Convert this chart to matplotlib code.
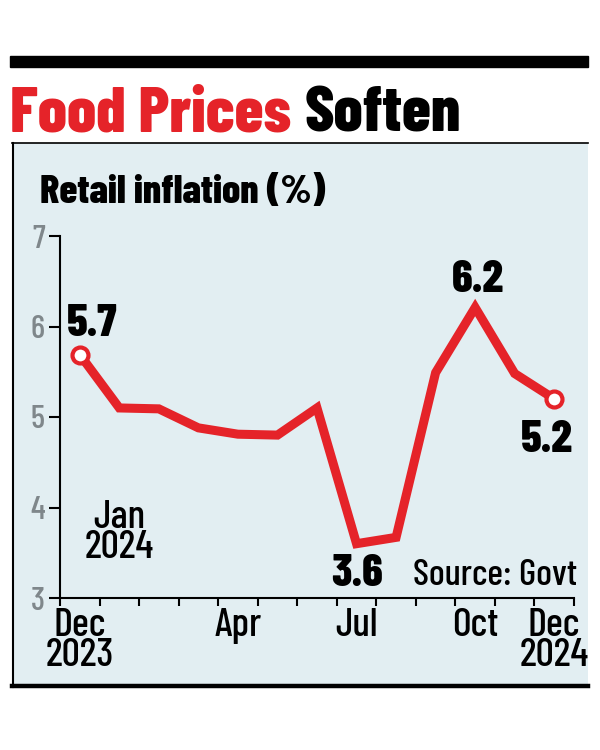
import numpy as np
import matplotlib
matplotlib.use('Agg')
from matplotlib import pyplot, font_manager
from matplotlib.patches import Rectangle
from matplotlib.lines import Line2D


#data:
months    = ['Dec 2023', 'Jan', 'Feb', 'Mar', 'Apr', 'May', 'Jun',
             'Jul', 'Aug', 'Sep', 'Oct', 'Nov', 'Dec 2024']
inflation = [5.69, 5.10, 5.09, 4.88, 4.81, 4.80, 5.10, 3.60, 3.67, 5.49, 6.21, 5.48, 5.20]
xlabels   = {0: 'Dec\n2023', 4: 'Apr', 7: 'Jul', 10: 'Oct', 12: 'Dec\n2024'}
callouts  = {0: '5.7', 7: '3.6', 10: '6.2', 12: '5.2'}
yticks    = [3, 4, 5, 6, 7]

#fonts / colours:
names = {f.name for f in font_manager.fontManager.ttflist}
FONT  = 'Barlow Condensed' if 'Barlow Condensed' in names else 'DejaVu Sans'
pyplot.rcParams['font.family'] = [FONT, 'DejaVu Sans']
RED   = '#e52329'
BG    = '#e2eef2'
GREY  = '#7f878b'

W, H = 600, 750
def fx(px): return px / W
def fy(py): return 1 - py / H


pyplot.close('all')
fig = pyplot.figure(figsize=(6, 7.5), dpi=100)
fig.patch.set_facecolor('white')
r = fig.canvas.get_renderer()

def fit_width(t, w):
    bb = t.get_window_extent(r)
    t.set_fontsize(t.get_fontsize() * w / bb.width)

#header bar + title:
fig.patches.append(Rectangle((fx(10), fy(67)), fx(578), 11 / H, color='k', transform=fig.transFigure))
t0 = fig.text(fx(10), fy(132), 'Food Prices', color=RED, weight=800, size=40, va='baseline')
fit_width(t0, 282)
t0b = fig.text(fx(305), fy(132), 'Soften', color='k', weight=800, size=t0.get_fontsize(), va='baseline')

#panel:
fig.patches.append(Rectangle((fx(12), fy(687)), fx(576), 544 / H, facecolor=BG, edgecolor='none',
                             transform=fig.transFigure, zorder=0))
fig.lines.append(Line2D([fx(12), fx(588)], [fy(143), fy(143)], color='k', lw=1.2, transform=fig.transFigure))
fig.lines.append(Line2D([fx(13), fx(13)], [fy(143), fy(687)], color='k', lw=1.5, transform=fig.transFigure))
fig.lines.append(Line2D([fx(12), fx(588)], [fy(686), fy(686)], color='k', lw=3.2, transform=fig.transFigure))

t1 = fig.text(fx(40), fy(203), 'Retail inflation (%)', color='k', weight=800, size=31, va='baseline')
fit_width(t1, 285)

#axes:
ax = fig.add_axes([fx(60), fy(598), fx(514), 362 / H], zorder=2)
ax.set_facecolor('none')
x = np.arange(len(months)) + 0.5
ax.plot(x, inflation, color=RED, lw=6.5, solid_joinstyle='miter', clip_on=False, zorder=3)
ends = [0, len(months) - 1]
ax.plot(x[ends], np.array(inflation)[ends], 'o', ms=11.5, mfc='white', mec=RED, mew=3,
        clip_on=False, zorder=4)

ax.set_xlim(0, len(months))
ax.set_ylim(3, 7)
for s in ['top', 'right']:
    ax.spines[s].set_visible(False)
for s in ['left', 'bottom']:
    ax.spines[s].set_linewidth(1.5)

ax.set_yticks(yticks)
ax.tick_params(axis='y', length=8, width=1.5, pad=3, labelsize=24, labelcolor=GREY)
for t in ax.get_yticklabels():
    t.set_fontweight(500)
ax.set_xticks(np.arange(len(months) + 1))
ax.set_xticklabels([])
ax.tick_params(axis='x', which='major', length=5.5, width=1.5)
ax.set_xticks([k + 0.5 for k in xlabels], minor=True)
ax.set_xticklabels(list(xlabels.values()), minor=True, fontsize=29, linespacing=0.8, fontweight=500)
ax.tick_params(axis='x', which='minor', length=0, pad=7)

#annotations:
ax.text(1.5, 3.0 + (598 - 558) / 90.5, 'Jan\n2024', ha='center', va='baseline', size=29,
        linespacing=0.8, weight=500)
offsets = {0: (12, 19), 7: (1, -42), 10: (3, 15), 12: (-7, -53)}
for i, lab in callouts.items():
    dx, dy = offsets[i]
    ax.annotate(lab, (x[i], inflation[i]), xytext=(dx, dy), textcoords='offset pixels',
                ha='center', va='baseline', weight=800, size=33)
ts = fig.text(fx(577), fy(585), 'Source: Govt', ha='right', va='baseline', size=29, weight=500, zorder=3)
fit_width(ts, 164)

fig.savefig('out.png', dpi=100)
